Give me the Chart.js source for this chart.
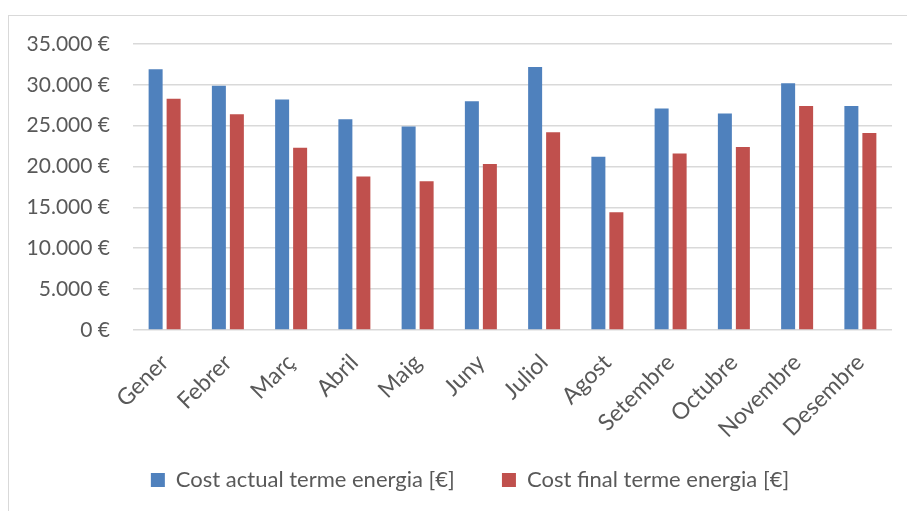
<!DOCTYPE html>
<html lang="ca">
<head>
<meta charset="utf-8">
<title>Cost terme energia</title>
<script src="https://cdn.jsdelivr.net/npm/chart.js@4"></script>
<style>
  html, body { margin: 0; padding: 0; background: #fff; overflow: hidden; width: 907px; height: 511px; }
  #frame {
    position: absolute; left: 8px; top: 15px; width: 1000px; height: 1000px;
    border: 1px solid #d9d9d9; box-sizing: border-box;
  }
  #wrap { position: absolute; left: 0; top: 0; width: 940px; height: 511px; }
</style>
</head>
<body>
<div id="frame"></div>
<div id="wrap"><canvas id="chart" width="940" height="511"></canvas></div>
<script>
// Months and monthly costs (€)
const months = ['Gener', 'Febrer', 'Març', 'Abril', 'Maig', 'Juny',
                'Juliol', 'Agost', 'Setembre', 'Octubre', 'Novembre', 'Desembre'];
const costActual = [31900, 29900, 28200, 25800, 24900, 28000,
                    32200, 21200, 27100, 26500, 30200, 27400];
const costFinal  = [28300, 26400, 22300, 18800, 18200, 20300,
                    24200, 14400, 21600, 22400, 27400, 24100];
const seriesNames = ['Cost actual terme energia [€]', 'Cost final terme energia [€]'];
const yMax = 35000;
const yStep = 5000;

const FONT = 'Lato, "Open Sans", sans-serif';
const TEXT = '#595959';
const GRID = '#d9d9d9';

function euro(v) {
  return String(Math.round(v)).replace(/\B(?=(\d{3})+(?!\d))/g, '.') + ' €';
}

// Wider gap between the two legend entries than the vertical legend padding allows
const LEGEND_GAP = '\u00a0'.repeat(5);

new Chart(document.getElementById('chart'), {
  type: 'bar',
  data: {
    labels: months,
    datasets: [
      { label: seriesNames[0], data: costActual, backgroundColor: '#4f81bd', borderWidth: 0 },
      { label: seriesNames[1], data: costFinal, backgroundColor: '#c0504d', borderWidth: 0 }
    ]
  },
  options: {
    responsive: false,
    animation: false,
    devicePixelRatio: 1,
    categoryPercentage: 0.569,
    barPercentage: 0.778,
    layout: { padding: { left: 0, right: 0, top: 44, bottom: 10 } },
    scales: {
      x: {
        grid: { display: false, drawTicks: false },
        border: { display: false },
        ticks: {
          color: TEXT, font: { family: FONT, size: 23 },
          minRotation: 45, maxRotation: 45, padding: 19, autoSkip: false
        },
        afterFit: s => { s.height = 120; }
      },
      y: {
        min: 0, max: yMax,
        grid: { color: GRID, lineWidth: 1.6, drawTicks: false },
        border: { display: false },
        ticks: {
          stepSize: yStep, color: TEXT, font: { family: FONT, size: 21 },
          padding: 23, callback: v => euro(v)
        },
        afterFit: s => { s.width = 133; }
      },
      // empty margin on the right of the plot
      yRight: {
        position: 'right',
        grid: { display: false, drawTicks: false },
        border: { display: false },
        ticks: { display: false },
        afterFit: s => { s.width = 48; }
      }
    },
    plugins: {
      legend: {
        position: 'bottom',
        labels: {
          color: TEXT, font: { family: FONT, size: 22 },
          boxWidth: 14, boxHeight: 14, padding: 19,
          generateLabels: chart => {
            const items = Chart.defaults.plugins.legend.labels.generateLabels(chart);
            items[0].text += LEGEND_GAP;
            return items;
          }
        }
      },
      tooltip: { enabled: false }
    }
  }
});
</script>
</body>
</html>
